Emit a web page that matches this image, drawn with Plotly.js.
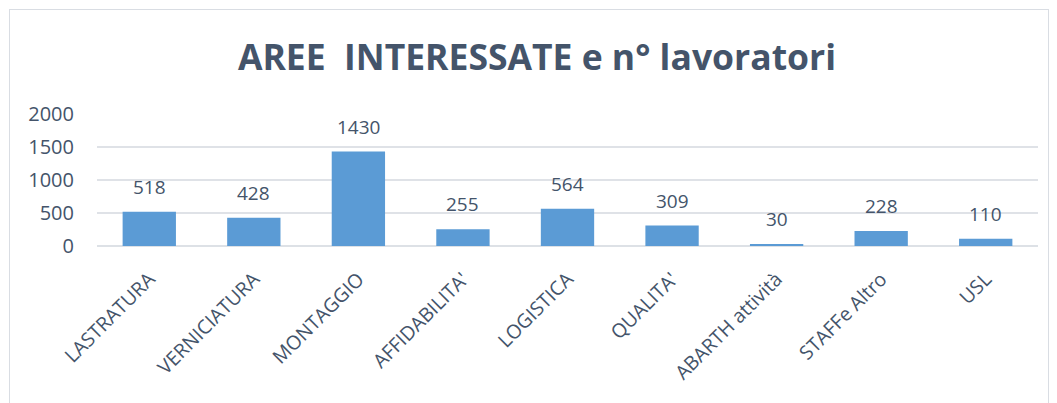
<!DOCTYPE html>
<html><head><meta charset="utf-8">
<script src="https://cdn.plot.ly/plotly-3.0.1.min.js"></script>
<style>
html,body{margin:0;padding:0;background:#fff;}
#wrap{position:relative;width:1057px;height:403px;}
#chart{position:absolute;left:0;top:0;width:1057px;height:403px;}
#frame{position:absolute;left:9px;top:9px;width:1038px;height:400px;border:1.5px solid #d9dde3;pointer-events:none;}
</style></head>
<body><div id="wrap"><div id="chart"></div><div id="frame"></div></div>
<script>
const categories = ["LASTRATURA","VERNICIATURA","MONTAGGIO","AFFIDABILITA'","LOGISTICA","QUALITA'","ABARTH attività","STAFFe Altro","USL"];
const workers = [518, 428, 1430, 255, 564, 309, 30, 228, 110];
const yTicks = [0, 500, 1000, 1500, 2000];
const titleText = "AREE&nbsp; INTERESSATE e n° lavoratori";

const txt = "#44546a";
const fontFam = "Open Sans, sans-serif";

const trace = {
  type: "bar",
  x: categories,
  y: workers,
  marker: {color: "#5b9bd5", line: {width: 0}},
  hoverinfo: "x+y"
};

const annotations = categories.map((c, i) => ({
  x: c, y: workers[i], xref: "x", yref: "y",
  text: String(workers[i]), showarrow: false,
  yanchor: "bottom", yshift: 10,
  font: {family: fontFam, size: 19, color: txt}
}));

const layout = {
  width: 1057, height: 403,
  margin: {l: 97, r: 19, t: 114, b: 156.5, pad: 0},
  paper_bgcolor: "rgba(0,0,0,0)",
  plot_bgcolor: "rgba(0,0,0,0)",
  title: {text: "<b>" + titleText + "</b>", x: 0.508, xanchor: "center", y: 0.858, yanchor: "middle",
          font: {family: fontFam, size: 35.5, color: txt}},
  bargap: 0.49,
  showlegend: false,
  xaxis: {
    type: "category", tickangle: -45, showgrid: false, showline: false, ticks: "",
    ticklabelstandoff: 17,
    tickfont: {family: fontFam, size: 19.5, color: txt}, automargin: false
  },
  yaxis: {
    range: [0, 2000], tickvals: yTicks, ticktext: yTicks.map(String),
    showgrid: true, gridcolor: "#dfe2e7", gridwidth: 1.3,
    zeroline: true, zerolinecolor: "#dde1e6", zerolinewidth: 1.5,
    showline: false, ticks: "", ticklabelstandoff: 22,
    tickfont: {family: fontFam, size: 20, color: txt}, automargin: false
  },
  annotations: annotations
};

Plotly.newPlot("chart", [trace], layout, {displayModeBar: false, staticPlot: true});
</script></body></html>
